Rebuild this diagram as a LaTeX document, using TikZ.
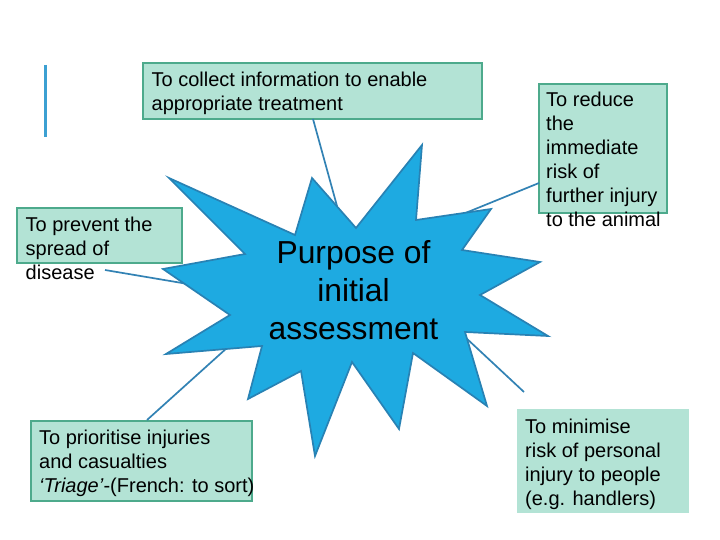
\documentclass[tikz,border=0pt]{standalone}
\usepackage{fontspec}
\setmainfont{Liberation Sans}
\definecolor{boxfill}{RGB}{179,227,213}
\definecolor{boxline}{RGB}{77,170,140}
\definecolor{starfill}{RGB}{30,170,225}
\definecolor{starline}{RGB}{40,130,180}
\definecolor{connblue}{RGB}{50,130,180}
\definecolor{barblue}{RGB}{60,160,210}
\begin{document}
\begin{tikzpicture}[x=1pt,y=-1pt,
  box/.style={fill=boxfill, draw=boxline, line width=1.6pt},
  plainbox/.style={fill=boxfill},
  lbl/.style={anchor=north west, inner sep=0pt, align=left, font=\fontsize{20}{24}\selectfont},
  connector/.style={draw=connblue, line width=1.7pt},
  starshape/.style={fill=starfill, draw=starline, line width=1.7pt, line join=miter},
  ]
\useasboundingbox[fill=white] (0,0) rectangle (720,540);

% left vertical bar
\coordinate (bartop) at (45.5,65);
\coordinate (barbot) at (45.5,137);
\draw[draw=barblue, line width=3pt] (bartop) -- (barbot);

% boxes
\path[box] (143,63) rectangle (482,119);
\path[box] (17,208) rectangle (182,263);
\path[box] (539,84) rectangle (667,213);
\path[box] (31,421) rectangle (252,501);
\path[plainbox] (517,409) rectangle (689,513);

% connector end points
\coordinate (topA) at (313,119);   \coordinate (topB) at (337,206);
\coordinate (leftA) at (105,270);  \coordinate (leftB) at (188,284);
\coordinate (rightA) at (539,183); \coordinate (rightB) at (463,214);
\coordinate (blA) at (147,420);    \coordinate (blB) at (228,347);
\coordinate (brA) at (524,392);    \coordinate (brB) at (465,337);

\draw[connector] (topA) -- (topB);
\draw[connector] (leftA) -- (leftB);
\draw[connector] (rightA) -- (rightB);
\draw[connector] (blA) -- (blB);
\draw[connector] (brA) -- (brB);

% star burst
\path[starshape] (169,178) -- (295,235) -- (312,178) -- (356,228) -- (422,145)
  -- (416,220) -- (491,209) -- (462,250) -- (540,262) -- (480,295)
  -- (548,336) -- (465,332) -- (487,406) -- (413,353) -- (399,429)
  -- (352,362) -- (315,456) -- (301,371) -- (248,399) -- (262,346)
  -- (166,354) -- (230,315) -- (163,269) -- (245,254) -- cycle;

\node[anchor=north, align=center, inner sep=0pt, font=\fontsize{31.8}{38}\selectfont] (title) at (353.5,240) {Purpose of\\initial\\assessment};

% labels
\node[lbl] (collect) at (151.5,71.4) {To collect information to enable\\appropriate treatment};
\node[lbl] (prevent) at (25.5,216.4) {To prevent the\\spread of\\disease};
\node[lbl] (reduce) at (546,91.4) {To reduce\\the\\immediate\\risk of\\further injury\\to the animal};
\node[lbl] (prioritise) at (39,429.4) {To prioritise injuries\\and casualties\\\textit{‘Triage’}-(French: to sort)};
\node[lbl] (minimise) at (525,418.4) {To minimise\\risk of personal\\injury to people\\(e.g. handlers)};
\end{tikzpicture}
\end{document}
